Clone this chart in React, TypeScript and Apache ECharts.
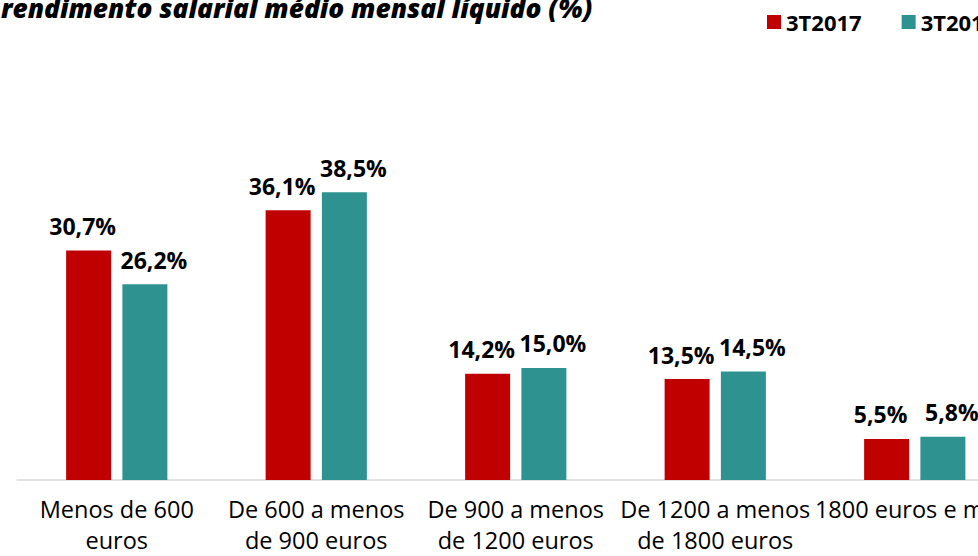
import React, { useEffect, useRef } from "react";
import * as echarts from "echarts";

const titleText = "rendimento salarial médio mensal líquido (%)";
const categories = [
  "Menos de 600\neuros",
  "De 600 a menos\nde 900 euros",
  "De 900 a menos\nde 1200 euros",
  "De 1200 a menos\nde 1800 euros",
  "1800 euros e mais",
];
const seriesNames = ["3T2017", "3T2018"];
const values2017 = [30.7, 36.1, 14.2, 13.5, 5.5];
const values2018 = [26.2, 38.5, 15.0, 14.5, 5.8];
const colors = ["#C00000", "#2E9390"];

const FONT = "'Open Sans', 'Noto Sans', sans-serif";

export default function App() {
  const ref = useRef<HTMLDivElement>(null);
  useEffect(() => {
    if (!ref.current) return;
    const chart = echarts.init(ref.current, null, { renderer: "svg" });
    const fmt = (p: any) => p.value.toFixed(1).replace(".", ",") + "%";
    chart.setOption({
      animation: false,
      title: {
        text: titleText,
        left: 1,
        top: -5,
        padding: 0,
        textStyle: {
          fontFamily: FONT,
          fontSize: 26.3,
          fontWeight: 800,
          fontStyle: "italic",
          color: "#000",
        },
      },
      legend: {
        left: 762,
        top: 6,
        itemWidth: 14,
        itemHeight: 14,
        itemGap: 40,
        icon: "rect",
        textStyle: { fontFamily: FONT, fontSize: 22, fontWeight: "bold", color: "#000" },
        data: seriesNames,
      },
      grid: { left: 17, width: 997.5, top: 181, height: 299, containLabel: false },
      xAxis: {
        type: "category",
        data: categories,
        axisLine: { lineStyle: { color: "#D9D9D9", width: 1.5 } },
        axisTick: { show: false },
        axisLabel: {
          interval: 0,
          margin: 13,
          fontFamily: FONT,
          fontSize: 23.5,
          lineHeight: 31,
          color: "#000",
        },
      },
      yAxis: {
        type: "value",
        min: 0,
        max: 40,
        show: false,
        splitLine: { show: false },
      },
      series: [
        {
          name: seriesNames[0],
          type: "bar",
          data: values2017,
          barWidth: 45,
          barGap: "25%",
          itemStyle: { color: colors[0] },
          label: {
            show: true,
            position: "top",
            distance: 13,
            offset: [-6, 0],
            formatter: fmt,
            fontFamily: FONT,
            fontSize: 23,
            fontWeight: "bold",
            color: "#000",
          },
        },
        {
          name: seriesNames[1],
          type: "bar",
          data: values2018,
          barWidth: 45,
          barGap: "25%",
          itemStyle: { color: colors[1] },
          label: {
            show: true,
            position: "top",
            distance: 13,
            offset: [9, 0],
            formatter: fmt,
            fontFamily: FONT,
            fontSize: 23,
            fontWeight: "bold",
            color: "#000",
          },
        },
      ],
    });
    return () => chart.dispose();
  }, []);
  return (
    <div
      style={{
        position: "absolute",
        left: 0,
        top: 0,
        width: 978,
        height: 556,
        overflow: "hidden",
        background: "#fff",
      }}
    >
      <div ref={ref} style={{ width: 1100, height: 556 }} />
    </div>
  );
}
